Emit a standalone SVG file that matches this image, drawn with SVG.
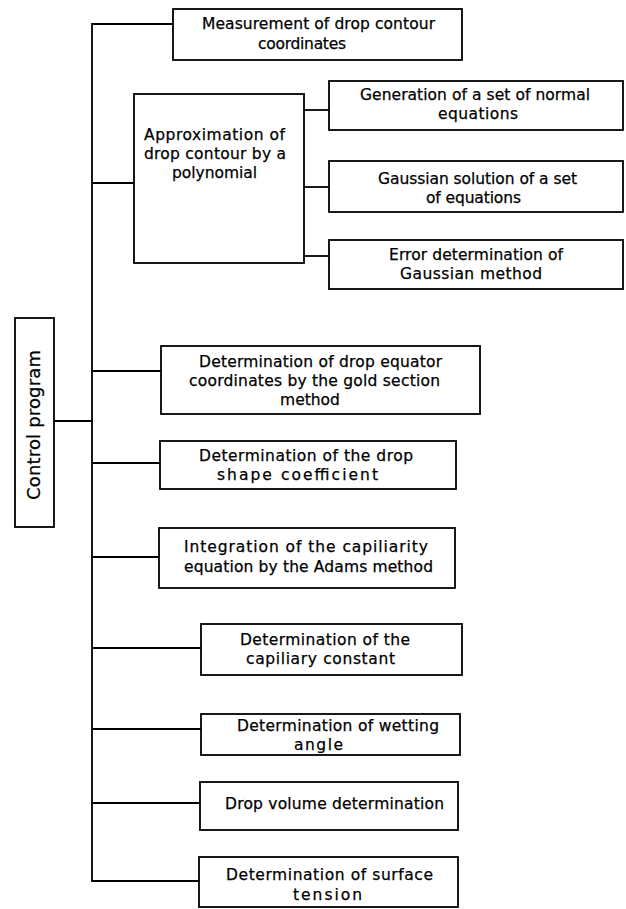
<svg xmlns="http://www.w3.org/2000/svg" width="626" height="909" viewBox="0 0 626 909">
<style>
  .box { fill: #fff; stroke: #000; stroke-width: 1.8; }
  .ln { fill: none; stroke: #000; stroke-width: 1.8; }
  text { font-family: "DejaVu Sans", "Liberation Sans", sans-serif; font-size: 15.5px; fill: #000; stroke: #000; stroke-width: 0.25; }
</style>
<rect width="626" height="909" fill="#fff"/>
<g id="connectors">
  <path class="ln" d="M173,24 H92 V881 H199"/>
  <path class="ln" d="M92,183 H134"/>
  <path class="ln" d="M54,421 H92"/>
  <path class="ln" d="M92,371 H161"/>
  <path class="ln" d="M92,463 H160"/>
  <path class="ln" d="M92,557 H159"/>
  <path class="ln" d="M92,648 H201"/>
  <path class="ln" d="M92,729 H201"/>
  <path class="ln" d="M92,803 H200"/>
  <path class="ln" d="M304,110 H329"/>
  <path class="ln" d="M304,187 H329"/>
  <path class="ln" d="M304,256 H329"/>
</g>
<g id="measurement">
  <rect class="box" x="173" y="9" width="289" height="51"/>
  <text x="202" y="29" textLength="233">Measurement of drop contour</text>
  <text x="258" y="49" textLength="88">coordinates</text>
</g>
<g id="approximation">
  <rect class="box" x="134" y="94" width="170" height="169"/>
  <text x="144" y="140" textLength="141">Approximation of</text>
  <text x="144" y="159" textLength="142">drop contour by a</text>
  <text x="172" y="178" textLength="85">polynomial</text>
</g>
<g id="generation">
  <rect class="box" x="329" y="81" width="294" height="49"/>
  <text x="360" y="100" textLength="230">Generation of a set of normal</text>
  <text x="438" y="119" textLength="80">equations</text>
</g>
<g id="gaussian">
  <rect class="box" x="329" y="161" width="294" height="51"/>
  <text x="378" y="184" textLength="199">Gaussian solution of a set</text>
  <text x="426" y="203" textLength="95">of equations</text>
</g>
<g id="error">
  <rect class="box" x="329" y="240" width="294" height="49"/>
  <text x="389" y="260" textLength="174">Error determination of</text>
  <text x="400" y="279" textLength="142">Gaussian method</text>
</g>
<g id="control">
  <rect class="box" x="15" y="318" width="39" height="209"/>
  <text transform="translate(40,425) rotate(-90)" text-anchor="middle" style="font-size:18px" textLength="150">Control program</text>
</g>
<g id="equator">
  <rect class="box" x="161" y="346" width="319" height="68"/>
  <text x="199" y="367" textLength="243">Determination of drop equator</text>
  <text x="189" y="386" textLength="251">coordinates by the gold section</text>
  <text x="310" y="405" text-anchor="middle">method</text>
</g>
<g id="shape">
  <rect class="box" x="160" y="441" width="296" height="48"/>
  <text x="199" y="461" textLength="214">Determination of the drop</text>
  <text x="217" y="480" textLength="161">shape coefficient</text>
</g>
<g id="integration">
  <rect class="box" x="159" y="528" width="296" height="60"/>
  <text x="184" y="552" textLength="244">Integration of the capiliarity</text>
  <text x="184" y="572" textLength="249">equation by the Adams method</text>
</g>
<g id="capillary">
  <rect class="box" x="201" y="624" width="261" height="51"/>
  <text x="240" y="645" textLength="170">Determination of the</text>
  <text x="246" y="664" textLength="149">capiliary constant</text>
</g>
<g id="wetting">
  <rect class="box" x="201" y="714" width="259" height="41"/>
  <text x="237" y="731" textLength="202">Determination of wetting</text>
  <text x="294" y="750" textLength="49">angle</text>
</g>
<g id="volume">
  <rect class="box" x="200" y="782" width="258" height="48"/>
  <text x="225" y="809" textLength="219">Drop volume determination</text>
</g>
<g id="surface">
  <rect class="box" x="199" y="857" width="259" height="50"/>
  <text x="226" y="880" textLength="207">Determination of surface</text>
  <text x="293" y="900" textLength="69">tension</text>
</g>
</svg>
